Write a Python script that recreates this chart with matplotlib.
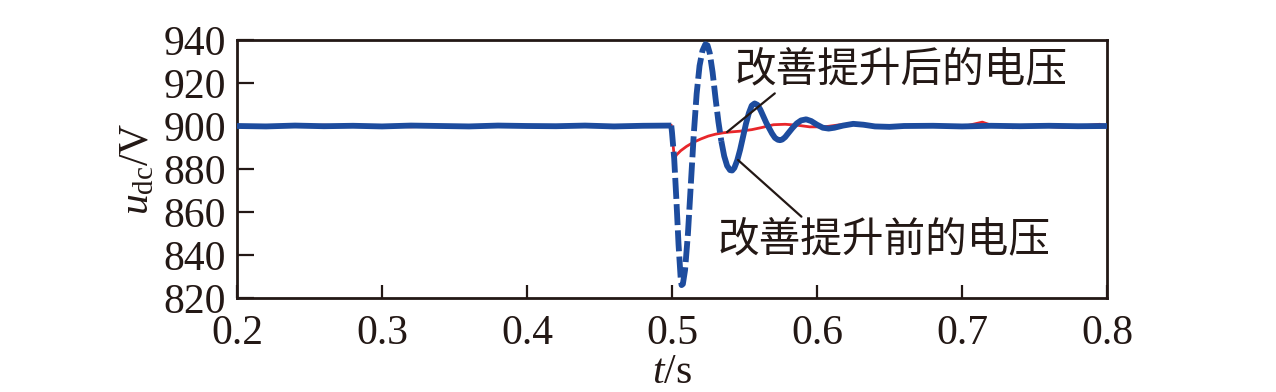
import matplotlib
matplotlib.use("Agg")
import matplotlib.pyplot as plt

plt.rcParams['font.family'] = ['Liberation Serif', 'DejaVu Serif']
plt.rcParams['mathtext.fontset'] = 'custom'
plt.rcParams['mathtext.rm'] = 'Liberation Serif'
plt.rcParams['mathtext.it'] = 'Liberation Serif:italic'

# ---- data ----
t_blue_flat = [0.200, 0.220, 0.240, 0.260, 0.280, 0.300, 0.320, 0.340, 0.360, 0.380,
               0.400, 0.420, 0.440, 0.460, 0.480, 0.4995]
v_blue_flat = [900.0, 899.8, 900.2, 899.9, 900.1, 899.8, 900.2, 900.0, 899.8, 900.2,
               900.0, 899.9, 900.2, 899.8, 900.1, 900.2]

t_blue_dash = [0.4995, 0.5000, 0.5015, 0.5030, 0.5045, 0.5060, 0.5066, 0.5075, 0.5090,
               0.5110, 0.5130, 0.5150, 0.5170, 0.5190, 0.5210, 0.5230, 0.5245, 0.5260,
               0.5280, 0.5300, 0.5320, 0.5340]
v_blue_dash = [900.2, 897.0, 885.0, 866.0, 845.0, 829.0, 826.0, 826.5, 833.0,
               850.0, 873.0, 896.0, 915.0, 928.0, 935.0, 938.0, 937.5, 934.0,
               925.0, 913.0, 902.0, 893.0]

t_blue_solid = [0.5340, 0.5360, 0.5380, 0.5400, 0.5415, 0.5430, 0.5450, 0.5470, 0.5490,
                0.5510, 0.5530, 0.5550, 0.5570, 0.5590, 0.5610, 0.5630, 0.5650, 0.5670,
                0.5690, 0.5710, 0.5730, 0.5745, 0.5760, 0.5780, 0.5800, 0.5830, 0.5860,
                0.5890, 0.5925, 0.5960, 0.6000, 0.6040, 0.6080, 0.6120, 0.6180, 0.6250,
                0.6320, 0.6400, 0.6500, 0.6600, 0.6800, 0.7000, 0.7200, 0.7400, 0.7600,
                0.7800, 0.8000]
v_blue_solid = [893.0, 886.0, 881.5, 879.5, 879.3, 880.5, 884.0, 889.0, 895.0,
                901.0, 906.0, 909.5, 910.5, 909.8, 907.5, 904.5, 901.5, 899.0,
                896.5, 894.5, 893.6, 893.4, 893.7, 894.8, 896.5, 899.0, 901.2,
                902.6, 903.1, 902.3, 900.6, 899.2, 898.8, 899.2, 900.2, 901.0,
                900.6, 899.8, 899.6, 900.0, 900.1, 899.8, 900.1, 899.9, 900.1,
                899.9, 900.0]

t_red = [0.200, 0.220, 0.240, 0.260, 0.280, 0.300, 0.320, 0.340, 0.360, 0.380, 0.400,
         0.420, 0.440, 0.460, 0.480, 0.4995, 0.5005, 0.5017, 0.5030, 0.5060, 0.5100,
         0.5150, 0.5200, 0.5250, 0.5300, 0.5350, 0.5400, 0.5470, 0.5550, 0.5620,
         0.5700, 0.5780, 0.5860, 0.5950, 0.6050, 0.6150, 0.6250, 0.6400, 0.6600,
         0.6800, 0.7000, 0.7140, 0.7200, 0.7350, 0.7500, 0.7700, 0.7850, 0.7950, 0.8000]
v_red = [900.0, 900.3, 899.7, 900.4, 899.8, 900.2, 899.6, 900.3, 899.8, 900.4, 899.7,
         900.2, 899.8, 900.3, 899.8, 900.4, 893.0, 884.5, 886.5, 888.5, 890.5,
         892.5, 894.0, 895.3, 896.2, 896.8, 897.2, 897.6, 898.3, 899.3,
         900.6, 900.8, 900.4, 899.6, 899.6, 900.5, 901.0, 900.2, 899.7,
         900.3, 899.6, 901.8, 900.4, 899.2, 900.0, 899.4, 900.2, 900.8, 900.0]

x_ticks = [0.2, 0.3, 0.4, 0.5, 0.6, 0.7, 0.8]
y_ticks = [820, 840, 860, 880, 900, 920, 940]

label_after = "改善提升后的电压"
label_before = "改善提升前的电压"

# ---- figure ----
BLUE = '#1d4c9e'
RED = '#e8262a'
DARK = '#231815'

fig = plt.figure(figsize=(12.76, 3.92), dpi=100)
ax = fig.add_axes([237/1276, 1-298/392, (1107-237)/1276, (298-40)/392])

ax.plot(t_red, v_red, color=RED, lw=2.0, zorder=2)
ax.plot(t_blue_flat, v_blue_flat, color=BLUE, lw=4.2, zorder=3, solid_capstyle='butt')
ax.plot(t_blue_dash, v_blue_dash, color=BLUE, lw=4.2, zorder=3, dashes=(3.6, 0.9),
        dash_capstyle='butt')
ax.plot(t_blue_solid, v_blue_solid, color=BLUE, lw=4.2, zorder=3, solid_capstyle='butt')

ax.set_xlim(0.2, 0.8)
ax.set_ylim(820, 940)
ax.set_xticks(x_ticks)
ax.set_yticks(y_ticks)
ax.set_xticklabels([f"{v:.1f}" for v in x_ticks])
ax.set_yticklabels([str(v) for v in y_ticks])

for s in ax.spines.values():
    s.set_linewidth(2.0)
    s.set_color(DARK)
ax.tick_params(axis='both', direction='in', width=1.6, color=DARK,
               labelsize=30, labelcolor=DARK)
ax.tick_params(axis='y', length=12, pad=8)
ax.tick_params(axis='x', length=9.5, pad=12)

ax.set_xlabel(r'$t$/s', fontsize=30, color=DARK, labelpad=0)
ax.set_ylabel(r'$u_{\mathrm{dc}}$/V', fontsize=30, color=DARK, labelpad=4)

cjk = ['Noto Sans CJK SC', 'DejaVu Sans']
ax.annotate(label_after, xy=(0.538, 897.2), xytext=(0.5434, 926),
            fontsize=30, family=cjk, color=DARK, va='center', ha='left',
            arrowprops=dict(arrowstyle='-', color=DARK, lw=1.6,
                            shrinkA=0, shrinkB=0, relpos=(0.13, 0.0)),
            zorder=5)
ax.annotate(label_before, xy=(0.5455, 884.2), xytext=(0.5317, 847),
            fontsize=30, family=cjk, color=DARK, va='center', ha='left',
            arrowprops=dict(arrowstyle='-', color=DARK, lw=1.6,
                            shrinkA=0, shrinkB=0, relpos=(0.26, 1.0)),
            zorder=5)

fig.savefig('out.png', dpi=100)
